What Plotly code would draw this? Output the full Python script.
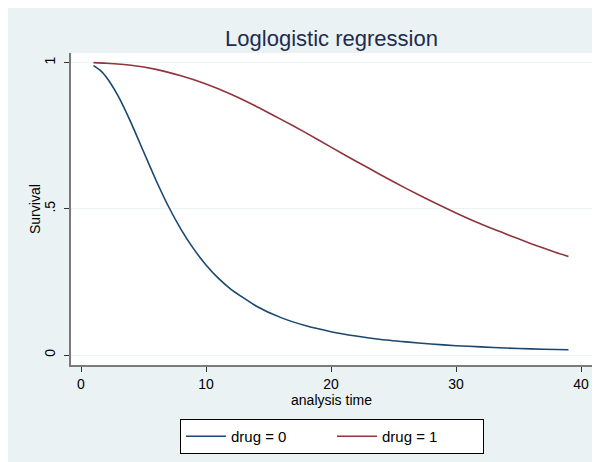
import plotly.graph_objects as go

# analysis time values and survival estimates
t_drug0 = [1, 1.5, 2, 3, 4, 5, 6, 7, 8, 9, 10, 11, 12, 14, 16, 18, 20, 22, 24, 26, 28, 30, 32, 34, 36, 38, 39]
s_drug0 = [0.990, 0.975, 0.952, 0.884, 0.795, 0.696, 0.598, 0.508, 0.430, 0.364, 0.308, 0.262, 0.225,
           0.168, 0.128, 0.100, 0.080, 0.065, 0.053, 0.045, 0.038, 0.032, 0.028, 0.024, 0.021, 0.019, 0.018]

t_drug1 = [1, 2, 4, 6, 8, 10, 12, 14, 16, 18, 20, 22, 24, 26, 28, 30, 32, 34, 36, 38, 39]
s_drug1 = [1.000, 0.998, 0.991, 0.977, 0.955, 0.927, 0.892, 0.851, 0.806, 0.760, 0.711, 0.663,
           0.616, 0.570, 0.527, 0.486, 0.448, 0.414, 0.381, 0.351, 0.337]

series_names = ["drug = 0", "drug = 1"]
x_ticks = [0, 10, 20, 30, 40]
y_ticks = [0, 0.5, 1]
y_tick_labels = ["0", ".5", "1"]

BG = "#EAF2F3"
NAVY = "#1A476F"
MAROON = "#90353B"
FONT = "Liberation Sans, Arial, sans-serif"

fig = go.Figure()
fig.add_trace(go.Scatter(x=t_drug0, y=s_drug0, mode="lines", name=series_names[0],
                         line=dict(color=NAVY, width=1.6, shape="spline", smoothing=0.5)))
fig.add_trace(go.Scatter(x=t_drug1, y=s_drug1, mode="lines", name=series_names[1],
                         line=dict(color=MAROON, width=1.6, shape="spline", smoothing=0.5)))

# page body adds an 8px offset; figure covers the light panel only
W, H = 585, 454
L, R, T, B = 63, 1, 45, 97
pw, ph = W - L - R, H - T - B

def px(x):
    return (x - 8 - L) / pw

def py(y):
    return (H - B - (y - 8)) / ph

fig.add_annotation(text="Survival", xref="paper", yref="paper", x=px(35), y=py(209),
                   xanchor="center", yanchor="middle", textangle=-90, showarrow=False,
                   font=dict(size=14, color="black", family=FONT))

fig.update_layout(
    width=W, height=H,
    margin=dict(l=L, r=R, t=T, b=B),
    paper_bgcolor=BG,
    plot_bgcolor="white",
    font=dict(family=FONT, size=14, color="black"),
    title=dict(text="Loglogistic regression", xref="paper", x=0.5, xanchor="center",
               y=1 - 30 / H, yanchor="middle", yref="container",
               font=dict(size=22, color="#1E2C4F", family=FONT)),
    xaxis=dict(range=[-0.8, 40.88], tickvals=x_ticks, ticks="outside", ticklen=5,
               tickcolor="#333333", tickwidth=1, showgrid=False, zeroline=False,
               showline=True, linecolor="#7a7a7a", linewidth=1.5,
               tickfont=dict(size=14), title=dict(text="analysis time", standoff=2,
                                                  font=dict(size=14))),
    yaxis=dict(range=[-0.034, 1.033], tickvals=y_ticks, ticktext=y_tick_labels,
               tickangle=-90, ticks="outside", ticklen=5, tickcolor="#333333", tickwidth=1,
               ticklabelstandoff=4,
               showgrid=True, gridcolor=BG, gridwidth=1, zeroline=False,
               showline=True, linecolor="#7a7a7a", linewidth=1.5,
               tickfont=dict(size=14)),
    legend=dict(orientation="h", x=px(332), xanchor="center", y=py(419), yanchor="top",
                bgcolor="white", bordercolor="black", borderwidth=1,
                font=dict(size=15), entrywidth=96, entrywidthmode="pixels",
                itemwidth=40),
    showlegend=True,
)

fig.write_html("out.html")
